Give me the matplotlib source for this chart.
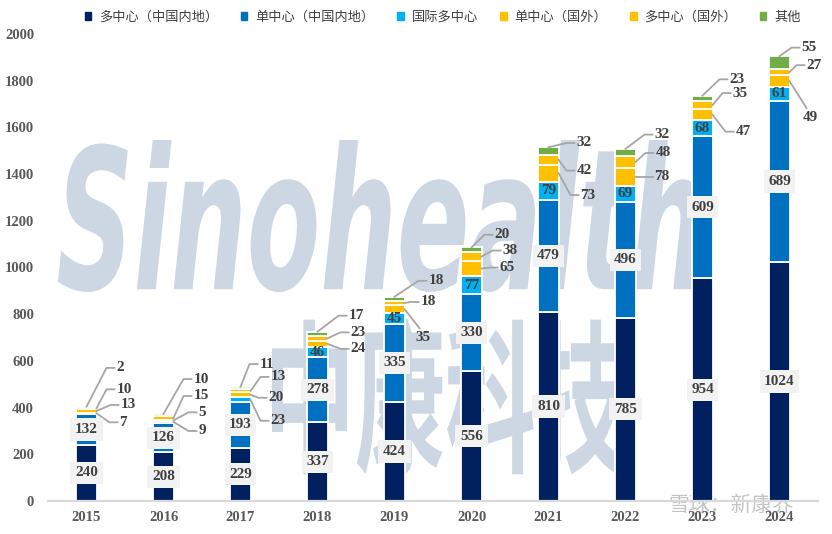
import matplotlib
matplotlib.use("Agg")
import matplotlib.pyplot as plt
from matplotlib.font_manager import FontProperties
from matplotlib.patches import Patch, PathPatch
from matplotlib.textpath import TextPath
from matplotlib.transforms import Affine2D

# ---------------- data
years = ["2015", "2016", "2017", "2018", "2019", "2020", "2021", "2022", "2023", "2024"]
multi_cn = [240, 208, 229, 337, 424, 556, 810, 785, 954, 1024]
single_cn = [132, 126, 193, 278, 335, 330, 479, 496, 609, 689]
intl_multi = [7, 9, 23, 46, 45, 77, 79, 69, 68, 61]
single_os = [13, 5, 20, 24, 35, 65, 73, 78, 47, 49]
multi_os = [10, 15, 13, 23, 18, 38, 42, 48, 35, 27]
other = [2, 10, 11, 17, 18, 20, 32, 32, 23, 55]

names = ["多中心（中国内地）", "单中心（中国内地）", "国际多中心", "单中心（国外）", "多中心（国外）", "其他"]
colors = ["#002060", "#0070C0", "#00B0F0", "#FFC000", "#FFC000", "#70AD47"]

# label offsets in pixels (dx from bar centre, dy up from segment middle) for the small series
# order: intl_multi, single_os, multi_os, other ; None -> label inside the bar
offsets = [
    [(33, -9), (34, 6), (30, 19), (30, 39)],
    [(35, -9), (35, 8), (30, 22), (30, 36)],
    [(30, -21), (28, -3), (30, 14), (19, 24)],
    [None, (33, -5), (33, 6), (31, 18)],
    [None, (21, -28), (26, 1), (34, 18)],
    [None, (28, 1), (31, 6), (23, 15)],
    [None, (32, -22), (28, -11), (28, 8)],
    [None, (29, 0), (30, 9), (29, 18)],
    [None, (33, -17), (30, 12), (27, 19)],
    [None, (23, -36), (27, 7), (22, 15)],
]

W, H = 832, 534
fig = plt.figure(figsize=(W / 100, H / 100), dpi=100)
ax = fig.add_axes([48 / W, 33 / H, 770 / W, 467 / H])
ax.set_zorder(1)
ax.patch.set_visible(False)

PX_X = 10 / 770
PX_Y = 2000 / 467
num_font = dict(family="Liberation Serif", weight="bold", size=11, color="#404040")


def watermark(s, fp, x0, y0, x1, y1, color):
    # pixel box (from top-left of the image)
    tp = TextPath((0, 0), s, size=1, prop=fp)
    ext = tp.get_extents()
    tr = (Affine2D().translate(-ext.x0, -ext.y0)
          .scale((x1 - x0) / ext.width / W, (y1 - y0) / ext.height / H)
          .translate(x0 / W, 1 - y1 / H))
    fig.add_artist(PathPatch(tr.transform_path(tp), fc=color, ec="none",
                             transform=fig.transFigure, zorder=0))


watermark("Sinohealth", FontProperties(family="DejaVu Sans", style="oblique", weight="bold"),
          58, 140, 700, 292, "#CDD7E3")
watermark("中康科技", FontProperties(family="Noto Sans CJK SC", weight="bold"),
          272, 318, 625, 475, "#CDD7E3")
fig.text(668 / W, 1 - 505 / H, "雪球：新康界", family=["Noto Sans CJK SC", "DejaVu Sans"],
         fontsize=15, color="#C4C4C4", va="center", ha="left", zorder=0)

series = [multi_cn, single_cn, intl_multi, single_os, multi_os, other]
x = list(range(len(years)))
bottom = [0] * len(years)
bw = 0.26
for k, (vals, c) in enumerate(zip(series, colors)):
    ax.bar(x, vals, bw, bottom=bottom, color=c, edgecolor="white", linewidth=1.3, zorder=2)
    for i, v in enumerate(vals):
        mid = bottom[i] + v / 2
        if k < 2:
            ax.text(i, mid, str(v), ha="center", va="center", zorder=4,
                    bbox=dict(boxstyle="square,pad=0.3", fc="#F2F2F2", ec="none"), **num_font)
        elif offsets[i][k - 2] is None:
            ax.text(i, mid, str(v), ha="center", va="center", zorder=4, **num_font)
        else:
            dx, dy = offsets[i][k - 2]
            xt, yt = i + dx * PX_X, mid + dy * PX_Y
            if k == 5:
                x0, y0 = i, bottom[i] + v
            else:
                x0, y0 = i + bw / 2, mid
            if dy < -25:
                xs, ys = [x0, xt + 4 * PX_X], [y0, yt + 9 * PX_Y]
            else:
                xs, ys = [x0, xt - 10 * PX_X, xt - 2 * PX_X], [y0, yt, yt]
            ax.plot(xs, ys, color="#A6A6A6", lw=1.3, zorder=3, clip_on=False)
            ax.text(xt, yt, str(v), ha="left", va="center", zorder=4, **num_font)
    bottom = [b + v for b, v in zip(bottom, vals)]

ax.set_xlim(-0.5, 9.5)
ax.set_ylim(0, 2000)
ax.set_yticks(range(0, 2001, 200))
ax.set_xticks(x)
ax.set_xticklabels(years)
for sp in ["top", "right", "left"]:
    ax.spines[sp].set_visible(False)
ax.spines["bottom"].set_color("#D9D9D9")
ax.spines["bottom"].set_linewidth(1.6)
ax.tick_params(axis="both", length=0, labelsize=10.5, labelcolor="#595959")
ax.tick_params(axis="y", pad=10)
ax.tick_params(axis="x", pad=7)
for lab in ax.get_xticklabels() + ax.get_yticklabels():
    lab.set_fontfamily("Liberation Serif")
    lab.set_fontweight("bold")

handles = [Patch(color=c) for c in colors]
fig.legend(handles, names, loc="center", bbox_to_anchor=(0.532, 0.968), ncol=6,
           frameon=False, handlelength=0.5, handleheight=0.5, handletextpad=0.6,
           columnspacing=1.7, prop=FontProperties(family="Noto Sans CJK SC", size=9.5),
           labelcolor="#404040")

fig.savefig("out.png", dpi=100)
